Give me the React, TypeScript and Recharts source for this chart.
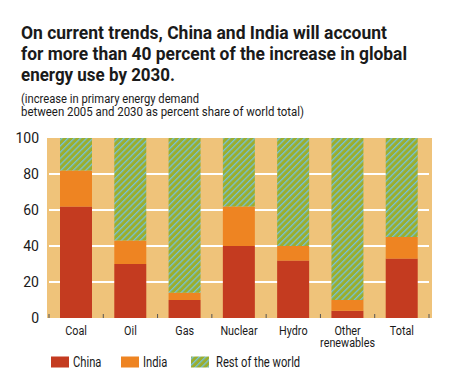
import { BarChart, Bar, XAxis, YAxis, CartesianGrid } from 'recharts';

// Share of the increase in primary energy demand, 2005-2030 (percent)
const categories = ['Coal', 'Oil', 'Gas', 'Nuclear', 'Hydro', 'Other renewables', 'Total'];
const chinaShare = [62, 30, 10, 40, 32, 4, 33];
const indiaShare = [20, 13, 4, 22, 8, 6, 12];
const restShare = [18, 57, 86, 38, 60, 90, 55];
const yTicks = [0, 20, 40, 60, 80, 100];

const titleLines = [
  'On current trends, China and India will account',
  'for more than 40 percent of the increase in global',
  'energy use by 2030.',
];
const subtitleLines = ['(increase in primary energy demand', 'between 2005 and 2030 as percent share of world total)'];

const SERIES = [
  { key: 'china', name: 'China', fill: '#C43B20' },
  { key: 'india', name: 'India', fill: '#EE8422' },
  { key: 'rest', name: 'Rest of the world', fill: 'url(#restStripes)' },
];

const FONT = 'Roboto, "Noto Sans", Arial, sans-serif';
const TEXT = '#1a1a1a';
const BG = '#EFC37A';
const SQUEEZE = 0.8; // narrow the glyphs to look like a condensed face

const W = 450;
const H = 387;
const MARGIN = { top: 138, right: 18, bottom: 29, left: 0 };
const X_AXIS_H = 40;
const PLOT_BOTTOM = H - MARGIN.bottom - X_AXIS_H;

const data = categories.map((name, i) => ({
  name,
  china: chinaShare[i],
  india: indiaShare[i],
  rest: restShare[i],
}));

// text squeezed horizontally around its own x; lines stack 12.5px apart
function NarrowText({ x, y, lines, anchor = 'start', size = 14 }: any) {
  return (
    <text
      transform={`translate(${x},${y}) scale(${SQUEEZE},1)`}
      textAnchor={anchor}
      fontFamily={FONT}
      fontSize={size}
      fill={TEXT}
    >
      {lines.map((l: string, i: number) => (
        <tspan key={i} x={0} dy={i === 0 ? 0 : 12.5}>
          {l}
        </tspan>
      ))}
    </text>
  );
}

function CategoryTick(props: any) {
  const { x, payload, index } = props;
  const half = payload?.offset ?? 27;
  const last = index === categories.length - 1;
  return (
    <g>
      <line x1={x - half} x2={x - half} y1={PLOT_BOTTOM} y2={PLOT_BOTTOM - 4} stroke="#555" strokeWidth={1} />
      {last && (
        <line x1={x + half} x2={x + half} y1={PLOT_BOTTOM} y2={PLOT_BOTTOM - 4} stroke="#555" strokeWidth={1} />
      )}
      <NarrowText x={x} y={PLOT_BOTTOM + 17} lines={String(payload.value).split(' ')} anchor="middle" size={13.5} />
    </g>
  );
}

function GridLine(props: any) {
  const { x1, x2, y1, y2 } = props;
  return <line x1={x1 + 2} x2={x2 - 3} y1={y1} y2={y2} stroke="#fff" strokeWidth={2} />;
}

const titleWidths = [366, 386, 154];
const subtitleWidths = [178, 283];

export default function App() {
  return (
    <div style={{ position: 'absolute', left: 0, top: 0, width: W, height: H, background: '#fff' }}>
      <svg width={W} height={125} style={{ position: 'absolute', left: 0, top: 0 }}>
        {titleLines.map((t, i) => (
          <text
            key={t}
            x={21}
            y={38.5 + i * 21.2}
            fontFamily={FONT}
            fontSize={18.5}
            fontWeight="bold"
            fill={TEXT}
            textLength={titleWidths[i]}
            lengthAdjust="spacingAndGlyphs"
          >
            {t}
          </text>
        ))}
        {subtitleLines.map((t, i) => (
          <text
            key={t}
            x={21}
            y={103 + i * 13}
            fontFamily={FONT}
            fontSize={12}
            fill={TEXT}
            textLength={subtitleWidths[i]}
            lengthAdjust="spacingAndGlyphs"
          >
            {t}
          </text>
        ))}
      </svg>

      <BarChart width={W} height={H} data={data} margin={MARGIN} barSize={32} style={{ position: 'absolute', left: 0, top: 0 }}>
        <defs>
          <pattern id="restStripes" patternUnits="userSpaceOnUse" width={4.4} height={4.4} patternTransform="rotate(45)">
            <rect width={4.4} height={4.4} fill="#9BAE2D" />
            <rect width={1.3} height={4.4} fill="#74C2DA" />
          </pattern>
        </defs>
        <CartesianGrid
          vertical={false}
          fill={BG}
          fillOpacity={1}
          horizontalValues={[20, 40, 60, 80]}
          horizontal={<GridLine />}
        />
        <XAxis
          dataKey="name"
          height={X_AXIS_H}
          axisLine={false}
          tickLine={false}
          interval={0}
          padding={{ left: 2, right: 3 }}
          tick={<CategoryTick />}
        />
        <YAxis
          width={47}
          domain={[0, 100]}
          ticks={yTicks}
          axisLine={false}
          tickLine={false}
          tick={{ fontFamily: FONT, fontSize: 14, fill: TEXT }}
        />
        {SERIES.map((s) => (
          <Bar key={s.key} dataKey={s.key} name={s.name} stackId="a" fill={s.fill} isAnimationActive={false} />
        ))}
      </BarChart>

      <svg width={W} height={30} style={{ position: 'absolute', left: 0, top: 350 }}>
        {SERIES.map((s, i) => {
          const sx = [51, 121, 191][i];
          const tx = [73, 143, 216][i];
          return (
            <g key={s.key}>
              <rect x={sx} y={6.5} width={18} height={11} fill={s.fill} />
              <NarrowText x={tx} y={17} lines={[s.name]} />
            </g>
          );
        })}
      </svg>
    </div>
  );
}
